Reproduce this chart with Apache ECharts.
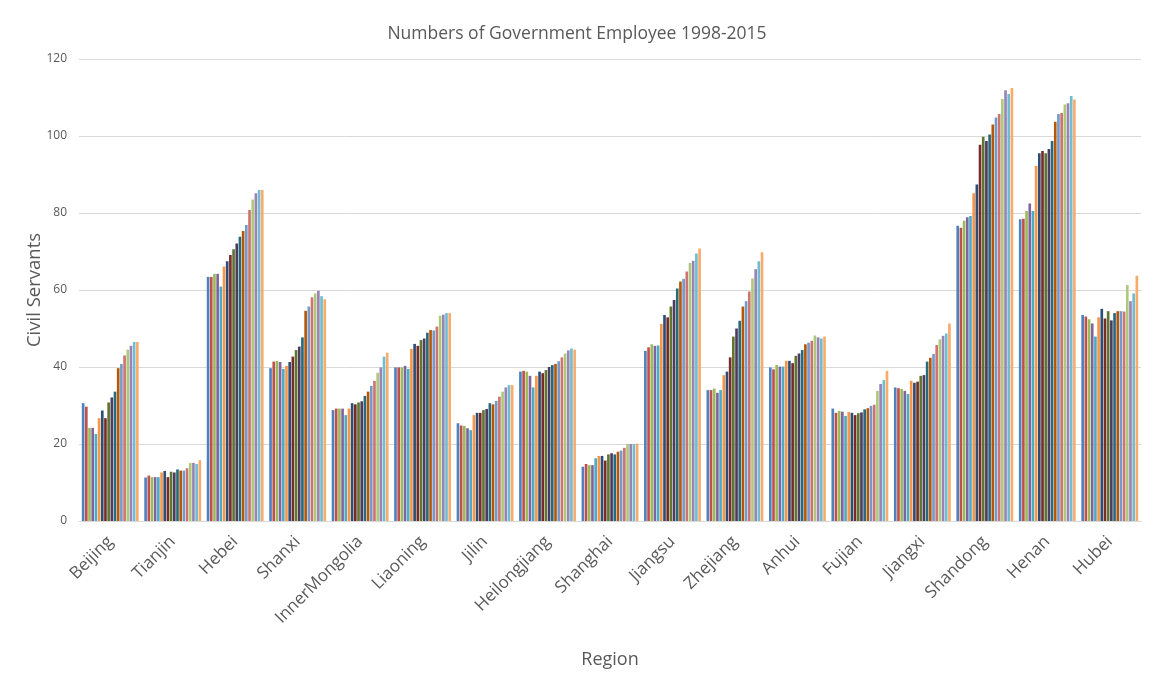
<!DOCTYPE html>
<html>
<head>
<meta charset="utf-8">
<title>Numbers of Government Employee 1998-2015</title>
<script src="https://cdn.jsdelivr.net/npm/echarts@6/dist/echarts.min.js"></script>
<style>
  html, body { margin: 0; padding: 0; background: #ffffff; }
  #chart { width: 1154px; height: 682px; }
</style>
</head>
<body>
<div id="chart"></div>
<script>
// Regions on the category axis
const regions = ['Beijing', 'Tianjin', 'Hebei', 'Shanxi', 'InnerMongolia', 'Liaoning', 'Jilin',
  'Heilongjiang', 'Shanghai', 'Jiangsu', 'Zhejiang', 'Anhui', 'Fujian', 'Jiangxi',
  'Shandong', 'Henan', 'Hubei'];

// One series per year
const years = ['1998', '1999', '2000', '2001', '2002', '2003', '2004', '2005', '2006',
  '2007', '2008', '2009', '2010', '2011', '2012', '2013', '2014', '2015'];

// Civil servants per region, one row per region, one column per year (1998..2015)
const beijing       = [30.6, 29.7, 24.2, 24.2, 22.6, 26.7, 28.7, 26.7, 30.8, 32.1, 33.6, 39.7, 40.8, 43.0, 44.5, 45.5, 46.5, 46.5];
const tianjin       = [11.3, 11.8, 11.4, 11.4, 11.4, 12.6, 13.0, 11.4, 12.8, 12.6, 13.4, 13.1, 13.1, 13.7, 15.1, 15.1, 14.8, 15.8];
const hebei         = [63.4, 63.4, 64.2, 64.2, 60.9, 66.1, 67.5, 69.1, 70.6, 72.1, 73.8, 75.3, 76.9, 80.8, 83.5, 85.1, 86.0, 86.0];
const shanxi        = [39.7, 41.4, 41.6, 41.3, 39.5, 40.3, 41.3, 42.7, 44.4, 45.3, 47.7, 54.6, 55.7, 58.1, 59.1, 59.8, 58.4, 57.6];
const innerMongolia = [28.8, 29.2, 29.2, 29.2, 27.5, 29.2, 30.6, 30.3, 30.8, 31.1, 32.5, 33.6, 35.1, 36.4, 38.5, 39.9, 42.7, 43.7];
const liaoning      = [39.9, 39.9, 39.9, 40.3, 39.5, 44.7, 46.0, 45.5, 47.0, 47.4, 48.9, 49.6, 49.5, 50.5, 53.3, 53.6, 54.0, 54.0];
const jilin         = [25.4, 24.8, 24.7, 24.1, 23.6, 27.5, 28.1, 28.1, 28.8, 29.1, 30.6, 30.3, 31.2, 32.3, 33.6, 34.7, 35.3, 35.3];
const heilongjiang  = [38.8, 39.0, 38.8, 37.7, 34.7, 37.7, 38.8, 38.4, 39.2, 40.0, 40.5, 40.8, 41.5, 42.5, 43.5, 44.3, 44.8, 44.5];
const shanghai      = [14.1, 14.8, 14.5, 14.5, 16.3, 16.9, 16.9, 15.7, 17.3, 17.6, 17.3, 18.0, 18.3, 19.0, 20.0, 20.0, 20.0, 20.1];
const jiangsu       = [44.2, 45.1, 45.9, 45.5, 45.6, 51.2, 53.5, 52.9, 55.7, 57.4, 60.4, 62.2, 62.9, 64.8, 67.0, 67.6, 69.5, 70.8];
const zhejiang      = [34.0, 34.0, 34.4, 33.3, 34.0, 37.9, 38.8, 42.5, 47.9, 50.0, 52.0, 55.7, 57.1, 59.6, 63.0, 65.4, 67.5, 69.8];
const anhui         = [39.9, 39.4, 40.5, 40.1, 40.1, 41.6, 41.6, 41.0, 42.9, 43.5, 44.4, 45.9, 46.3, 46.8, 48.2, 47.7, 47.4, 47.9];
const fujian        = [29.2, 28.1, 28.6, 28.4, 27.3, 28.3, 28.1, 27.5, 28.0, 28.2, 29.0, 29.3, 29.9, 30.2, 33.8, 35.6, 36.6, 39.0];
const jiangxi       = [34.7, 34.5, 34.3, 33.8, 33.0, 36.4, 35.9, 36.2, 37.7, 37.9, 41.4, 42.4, 43.4, 45.7, 47.2, 48.1, 48.7, 51.3];
const shandong      = [76.7, 76.2, 78.0, 78.9, 79.2, 85.1, 87.4, 97.7, 99.8, 98.7, 100.4, 103.0, 104.8, 105.7, 109.6, 111.9, 110.9, 112.5];
const henan         = [78.4, 78.5, 80.5, 82.5, 80.5, 92.2, 95.5, 96.1, 95.5, 96.6, 98.7, 103.7, 105.7, 106.0, 108.2, 108.5, 110.4, 109.5];
const hubei         = [53.5, 53.1, 52.4, 51.3, 47.9, 52.9, 55.1, 52.6, 54.5, 52.1, 54.0, 54.5, 54.5, 54.4, 61.3, 57.1, 59.1, 63.7];

const regionRows = [beijing, tianjin, hebei, shanxi, innerMongolia, liaoning, jilin,
  heilongjiang, shanghai, jiangsu, zhejiang, anhui, fujian, jiangxi, shandong, henan, hubei];

// Office-style palette: base, darker and lighter shades
const palette = ['#4F81BD', '#C0504D', '#9BBB59', '#8064A2', '#4BACC6', '#F79646',
  '#2C4D75', '#772C2A', '#5F7530', '#4D3B62', '#276A7C', '#B65708',
  '#729ACA', '#CD7371', '#AFC97A', '#9983B5', '#6FBDD1', '#F9AB6B'];

const textColor = '#595959';
const fontFamily = '"Open Sans", "Noto Sans", sans-serif';

const series = years.map((year, yi) => ({
  name: year,
  type: 'bar',
  barGap: '20%',
  barCategoryGap: '9%',
  itemStyle: { color: palette[yi] },
  emphasis: { disabled: true },
  data: regionRows.map(row => row[yi])
}));

const chart = echarts.init(document.getElementById('chart'), null, { renderer: 'canvas' });
chart.setOption({
  animation: false,
  color: palette,
  textStyle: { fontFamily: fontFamily },
  title: {
    text: 'Numbers of Government Employee 1998-2015',
    left: 'center',
    top: 20,
    textStyle: { color: textColor, fontSize: 17.5, fontWeight: 'normal', fontFamily: fontFamily }
  },
  grid: { left: 79, right: 13, top: 59, bottom: 161 },
  xAxis: {
    type: 'category',
    data: regions,
    name: 'Region',
    nameLocation: 'middle',
    nameGap: 130,
    nameTextStyle: { color: textColor, fontSize: 18, fontFamily: fontFamily },
    axisLine: { lineStyle: { color: '#d9d9d9' } },
    axisTick: { show: false },
    axisLabel: { rotate: 45, color: textColor, fontSize: 17, margin: 18, interval: 0, fontFamily: fontFamily }
  },
  yAxis: {
    type: 'value',
    min: 0,
    max: 120,
    interval: 20,
    name: 'Civil Servants',
    nameLocation: 'middle',
    nameGap: 35,
    nameMoveOverlap: false,
    nameTextStyle: { color: textColor, fontSize: 18.5, fontFamily: fontFamily },
    axisLine: { show: false },
    axisTick: { show: false },
    axisLabel: { color: textColor, fontSize: 12, margin: 12, fontFamily: fontFamily },
    splitLine: { lineStyle: { color: '#d9d9d9' } }
  },
  series: series
});
</script>
</body>
</html>
